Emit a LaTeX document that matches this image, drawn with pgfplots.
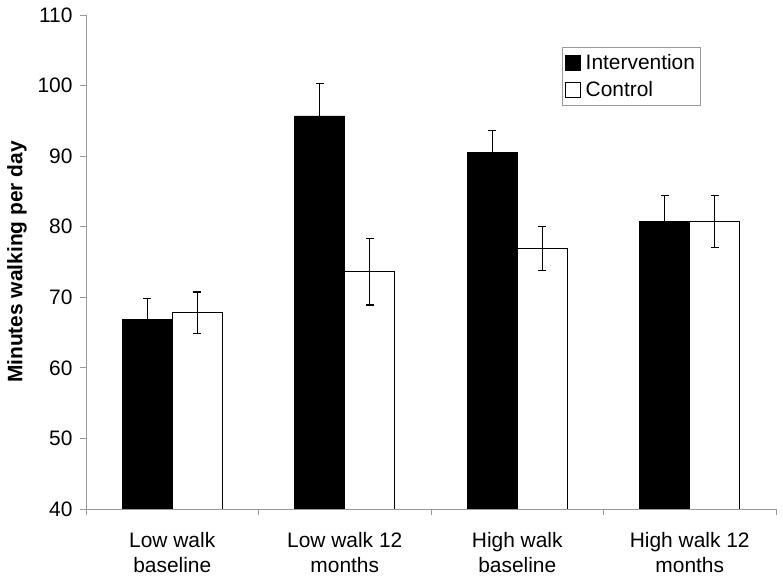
\documentclass[border=0pt]{standalone}
\usepackage{fontspec}
\setmainfont{Liberation Sans}
\usepackage{pgfplots}
\pgfplotsset{compat=1.18}
\begin{document}
\begin{tikzpicture}
\begin{axis}[
  scale only axis, width=690bp, height=494bp,
  xmin=-0.5, xmax=3.5, ymin=40, ymax=110,
  ytick={40,50,...,110},
  xtick={0,1,2,3},
  xticklabels={{Low walk\\baseline},{Low walk 12\\months},{High walk\\baseline},{High walk 12\\months}},
  minor xtick={-0.5,0.5,1.5,2.5,3.5},
  major x tick style={draw=none},
  axis x line*=bottom, axis y line*=left,
  axis line style={draw=black!40, line width=0.8bp},
  every tick/.style={black!40, line width=0.8bp},
  tick align=outside, major tick length=6bp, minor tick length=6bp,
  /pgf/number format/assume math mode=true,
  y tick label style={font=\fontsize{21}{24}\selectfont, xshift=-4bp},
  x tick label style={font=\fontsize{21}{25}\selectfont, align=center, yshift=-14bp},
  ylabel={Minutes walking per day},
  ylabel style={font=\fontsize{21}{24}\selectfont\bfseries, at={(axis description cs:0,0.5)}, anchor=center, yshift=69bp},
  ybar=0pt, bar width=50bp,
  legend style={at={(axis description cs:0.6894,0.9346)}, anchor=north west, draw=black!40,
    font=\fontsize{21}{24}\selectfont, inner xsep=3bp, inner ysep=4bp, row sep=4bp,
    nodes={inner xsep=2bp, inner ysep=3bp},
    /tikz/every odd column/.append style={column sep=3bp}},
  legend cell align=left,
]
\coordinate (bl) at (rel axis cs:0,0);
\coordinate (tr) at (rel axis cs:1,1);
\addplot[fill=black, draw=black, line width=0.8bp,
  legend image code/.code={\draw[fill=black,draw=black] (0bp,-7.5bp) rectangle (15bp,7.5bp);},
  error bars/.cd, y dir=both, y explicit,
  error bar style={line width=1.2bp, black},
  error mark options={rotate=90, mark size=4bp, line width=1.2bp, black}]
  coordinates {(0,66.9) +- (0,2.9) (1,95.7) +- (0,4.6) (2,90.5) +- (0,3.1) (3,80.7) +- (0,3.7)};
\addlegendentry{Intervention}
\addplot[fill=white, draw=black, line width=0.8bp,
  legend image code/.code={\draw[fill=white,draw=black] (0bp,-7.5bp) rectangle (15bp,7.5bp);},
  error bars/.cd, y dir=both, y explicit,
  error bar style={line width=1.2bp, black},
  error mark options={rotate=90, mark size=4bp, line width=1.2bp, black}]
  coordinates {(0,67.8) +- (0,2.95) (1,73.6) +- (0,4.7) (2,76.9) +- (0,3.15) (3,80.7) +- (0,3.7)};
\addlegendentry{Control}
\end{axis}
\pgfresetboundingbox
\path ([shift={(-86bp,-70bp)}]bl) rectangle ([shift={(7bp,15bp)}]tr);
\end{tikzpicture}
\end{document}
